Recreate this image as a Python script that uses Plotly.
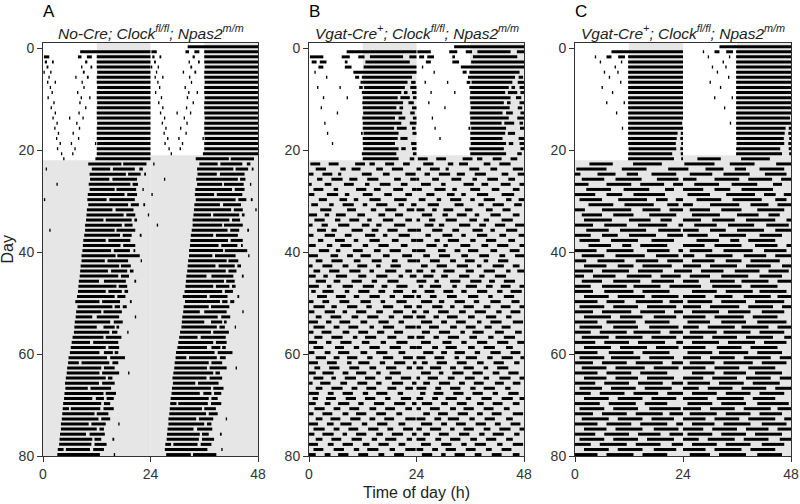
import plotly.graph_objects as go

# ---------------- data (single-plotted days, hours of activity bouts) ----------------
DD_START_DAY = 22          # first day in constant darkness
LIGHTS_OFF, LIGHTS_ON = 12, 24
N_ROWS = 80
X_TICKS = [0, 24, 48]
Y_TICKS = [0, 20, 40, 60, 80]

panel_letters = ["A", "B", "C"]
panel_titles = [
    "<i>No-Cre; Clock<sup>fl/fl</sup>; Npas2<sup>m/m</sup></i>",
    "<i>Vgat-Cre<sup>+</sup>; Clock<sup>fl/fl</sup>; Npas2<sup>m/m</sup></i>",
    "<i>Vgat-Cre<sup>+</sup>; Clock<sup>fl/fl</sup>; Npas2<sup>m/m</sup></i>",
]

bouts_A = [
    "8.3-24", "0.2-1.4 7.8-8.6 9.8-10.9 12.0-24", "0.4-0.9 2.0-2.4 9.4-9.9 12.0-24",
    "0.8-1.2 8.5-8.8 10.6-11.0 12.0-24", "0.1-0.4 1.6-1.9 8.9-9.3 12.1-24",
    "1.2-1.5 7.2-7.5 9.8-10.2 12.0-24", "0.9-1.2 2.6-2.9 8.6-8.9 12.0-24",
    "1.5-1.8 9.0-9.3 12.1-24", "1.9-2.2 7.6-7.9 12.0-24", "1.0-1.3 8.4-8.7 10.3-10.6 12.0-24",
    "2.3-2.6 8.1-8.4 12.1-24", "1.7-2.0 9.4-9.7 12.0-24", "2.6-2.9 7.9-8.2 12.0-24",
    "2.1-2.4 5.8-6.1 8.8-9.1 12.0-24", "3.0-3.3 7.4-7.7 12.1-24", "2.5-2.8 8.0-8.3 12.0-24",
    "3.3-3.6 6.6-6.9 12.0-24", "2.9-3.2 7.8-8.1 12.0-24", "3.7-4.0 6.2-6.5 11.6-11.9 12.1-24",
    "3.1-3.4 7.0-7.3 12.0-24", "4.0-4.3 6.5-6.8 12.0-24", "4.5-4.8 11.7-24",
    "10.1-17.5 17.9-23.1", "0.6-0.9 10.9-15.0 15.6-20.5 21.5-22.3", "10.4-18.5 19.0-21.8 22.6-23.0",
    "10.5-14.8 15.5-21.0", "3.0-3.3 10.2-19.5 20.0-21.2", "10.4-16.0 16.4-20.8 22.2-22.5",
    "10.0-18.2 18.8-21.0", "0.2-0.5 9.9-14.2 14.8-20.5", "10.1-19.0 19.6-21.4 22.4-22.8",
    "9.8-15.5 16.2-20.2", "9.7-18.0 18.6-20.6 23.4-23.7", "9.6-13.5 14.0-19.8 20.4-21.0",
    "9.4-17.6 18.2-20.0", "1.4-1.7 9.4-16.0 16.4-20.6", "9.2-17.2 17.8-19.8 21.6-22.0",
    "9.0-14.0 14.6-19.5", "8.9-17.3 17.9-20.6", "8.8-15.2 15.8-19.4 20.2-20.6",
    "8.6-16.2 16.6-21.6", "8.6-13.8 14.4-19.0 21.8-22.1", "8.4-17.0 17.4-19.6",
    "8.3-14.5 15.2-18.8 19.4-20.2", "8.2-16.8 17.4-19.2", "8.0-12.5 13.6-18.5 20.4-20.8",
    "7.9-16.4 16.9-18.8", "7.8-14.0 14.6-17.6 18.2-19.0", "7.6-16.0 16.6-18.4",
    "7.2-12.6 13.2-17.2 19.4-19.8", "7.7-15.5 16.0-17.2 17.8-18.7", "7.4-13.0 13.5-17.6",
    "7.3-11.0 12.0-17.0 20.5-20.8", "7.1-15.0 15.8-17.8", "7.0-12.0 13.5-16.0 16.4-17.0",
    "6.9-14.8 15.4-16.6 18.8-19.1", "6.6-13.5 14.0-17.5", "6.4-10.5 11.2-16.8",
    "6.2-14.0 14.6-17.0", "6.0-12.6 13.6-15.6 16.0-16.8", "5.7-14.3 15.0-18.3",
    "5.6-8.0 8.6-14.8 15.5-16.8", "5.4-13.0 13.6-16.0", "5.3-12.6 13.2-17.0 19.0-19.3",
    "5.1-14.0 14.5-15.5", "4.9-12.5 13.2-16.0", "5.0-10.0 10.6-15.2", "4.8-13.5 14.0-16.3",
    "4.7-11.0 11.8-13.6 14.2-15.8", "4.5-13.0 13.6-15.0", "4.4-5.8 6.2-12.8 13.5-15.8",
    "4.3-11.5 12.0-14.6", "4.2-12.4 13.0-15.0", "4.0-10.2 10.8-14.0 16.8-17.1",
    "4.0-12.0 12.6-13.6", "3.8-9.6 10.4-13.8", "3.7-11.0 11.5-13.0 15.5-15.9",
    "3.6-10.8 11.5-14.2", "3.3-4.6 5.1-10.5 11.2-13.6", "3.2-12.7 15.8-16.1", "3.5-9.0 9.5-14.7",
]

bouts_B = [
    "8.4-24", "0.2-3.2 7.3-9.1 11.0-12.4 13.6-21.0 22.4-24", "0.6-1.7 2.4-3.9 8.0-8.6 12.6-22.5",
    "2.1-3.2 8.0-9.5 12.2-24", "1.2-1.5 9.9-24", "3.8-4.1 10.3-11.2 11.8-23.0",
    "11.5-22.0 22.8-23.8", "1.8-2.1 6.8-7.1 11.2-12.0 12.3-21.4 22.6-24", "11.8-20.6 21.2-22.0 23.0-24",
    "3.1-3.4 8.4-8.7 12.0-19.8 20.4-22.5 23.2-24", "11.9-21.0 22.2-23.4", "2.6-2.9 12.0-19.5 20.2-21.0 23.0-24",
    "6.2-6.5 12.1-20.8 22.6-23.6", "11.9-19.2 20.0-21.5 23.2-24", "3.4-3.7 12.0-20.6 22.5-24",
    "12.0-19.0 19.6-21.8 23.0-23.8", "4.0-4.3 11.6-12.0 12.2-20.0 23.1-24", "12.0-19.8 20.4-22.0",
    "5.1-5.4 12.0-19.2 22.8-24", "12.1-20.0 20.6-21.6 23.0-24", "11.8-19.5 23.2-24", "12.0-20.0 22.5-23.5",
    "0.3-2.5 4.4-6.6 10.3-12.5 13.5-14.7 17.0-19.0 21.0-22.5",
    "1.5-3.8 7.0-8.2 9.5-11.5 15.0-16.5 18.5-21.0",
    "0.0-1.0 3.0-5.2 6.5-7.2 11.8-14.0 16.5-18.0 21.5-23.8",
    "1.8-3.0 5.0-7.5 9.0-10.8 13.0-15.5 19.0-20.5 22.6-24",
    "0.0-0.6 3.5-5.0 7.8-10.0 12.5-13.5 15.8-18.2 20.5-22.0",
    "1.0-3.2 5.5-6.5 10.5-12.8 14.5-16.0 18.8-21.0 23.0-24",
    "0.0-1.2 4.0-6.5 8.0-9.0 12.0-14.2 16.8-18.5 21.5-23.0",
    "2.2-4.0 6.8-8.5 10.0-11.0 13.5-16.0 19.0-21.8",
    "0.5-2.0 4.5-5.5 7.5-10.0 12.0-13.0 15.0-17.5 20.0-21.2 22.8-24",
    "2.5-5.0 8.5-10.5 13.8-15.0 17.0-19.5 21.8-23.5",
    "0.0-1.8 3.5-4.5 6.0-8.2 10.8-12.5 15.5-17.0 19.2-21.0",
    "1.2-3.5 5.8-7.0 9.0-11.2 13.0-14.0 16.5-18.8 21.5-23.0",
    "0.0-0.8 2.8-4.2 6.5-9.0 11.8-13.5 15.0-16.2 19.0-21.5",
    "1.8-3.8 5.0-6.2 9.5-12.0 14.0-15.5 17.5-19.8 22.0-24",
    "0.0-1.0 3.5-5.8 8.0-9.5 12.5-14.8 16.5-17.5 20.0-22.5",
    "2.0-3.2 5.8-8.0 10.0-11.0 13.5-15.8 18.5-20.0 22.8-24",
    "0.0-1.5 4.0-5.2 7.0-9.5 12.0-13.2 15.5-17.8 20.5-22.0",
    "2.2-4.5 6.0-7.0 9.8-12.0 14.5-16.0 18.0-20.5 23.0-24",
    "0.0-2.0 4.8-6.5 8.5-9.8 11.5-13.8 16.5-18.0 20.8-23.0",
    "1.5-3.0 5.0-7.5 10.0-11.5 14.0-16.2 18.5-19.8 22.0-24",
    "0.0-0.8 3.0-5.2 7.5-8.8 10.8-13.0 15.0-16.0 18.2-20.5",
    "1.0-2.5 4.5-6.8 9.0-11.5 13.5-14.5 17.0-19.5 21.5-23.0",
    "0.0-1.5 3.2-4.2 6.0-8.5 11.0-12.8 15.0-17.5 20.0-21.0 22.5-24",
    "1.5-3.8 5.5-7.0 9.5-11.8 14.0-15.2 17.5-20.0",
    "0.0-2.2 4.0-5.0 7.5-9.8 12.0-14.5 16.2-17.5 19.5-22.0",
    "0.5-1.5 3.0-5.5 8.0-9.0 11.0-13.5 15.5-17.0 18.8-21.0 23.0-24",
    "1.8-4.0 6.0-8.2 10.0-11.2 13.5-15.8 18.0-19.2 21.0-23.5",
    "0.0-1.0 3.0-4.5 6.8-9.0 11.5-13.8 16.0-17.0 19.5-21.8",
    "1.0-3.5 5.0-6.2 8.5-10.8 12.8-14.0 16.5-18.8 21.2-23.0",
    "0.0-1.2 3.5-5.8 7.5-8.5 10.5-12.8 15.0-16.5 18.8-21.0 23.0-24",
    "1.5-2.8 4.8-7.2 9.5-11.0 13.0-15.5 17.8-19.0 21.0-23.2",
    "0.0-2.0 3.8-5.0 6.8-9.2 11.5-13.0 15.5-17.8 20.0-21.2",
    "1.0-3.5 5.5-6.8 8.8-11.0 13.5-14.5 16.5-19.0 21.5-23.8",
    "0.0-1.0 2.8-5.0 7.5-9.0 11.0-13.2 15.2-16.8 19.0-21.0",
    "1.2-3.0 5.0-7.5 9.8-10.8 12.5-15.0 17.5-19.5 22.0-23.5",
    "0.0-1.8 3.8-5.0 7.0-9.5 11.8-13.5 16.0-17.2 19.5-22.0",
    "1.0-3.2 5.8-7.8 10.0-11.2 13.5-15.8 18.0-20.5 22.5-24",
    "0.0-1.2 3.5-4.8 6.5-9.0 11.5-13.0 15.0-17.5 20.0-21.5",
    "1.5-3.8 5.5-6.8 8.5-10.8 13.0-14.2 16.5-18.8 21.0-23.2",
    "0.0-2.0 4.0-6.2 8.5-9.5 11.0-13.5 15.8-17.0 19.0-21.5 23.2-24",
    "1.2-2.5 4.5-6.8 9.0-11.2 13.5-15.0 17.2-19.5 21.8-23.0",
    "0.0-1.5 3.0-5.5 7.5-8.8 10.5-12.8 15.0-16.0 18.0-20.5",
    "1.0-3.2 5.0-6.0 8.0-10.5 12.5-14.8 17.0-18.5 20.5-22.8",
    "0.0-0.8 2.5-4.8 7.0-8.5 10.8-13.0 15.0-16.2 18.5-21.0 23.0-24",
    "1.5-3.0 5.0-7.5 9.5-10.8 12.8-15.0 17.5-19.5 21.5-23.2",
    "0.0-2.2 4.2-5.5 7.5-9.8 12.0-13.2 15.0-17.5 19.8-21.0",
    "0.8-2.0 3.8-6.0 8.2-10.5 12.5-14.8 17.0-18.2 20.5-22.8",
    "0.0-1.5 3.5-4.8 6.5-9.0 11.0-12.2 14.5-16.8 19.0-21.5 23.0-24",
    "1.2-3.5 5.5-7.0 9.0-11.2 13.5-15.0 17.0-19.2 21.5-23.0",
    "0.0-1.0 3.0-5.2 7.5-8.8 10.5-12.8 15.0-17.2 19.5-20.8",
    "1.5-3.0 4.8-7.0 9.2-11.5 13.5-14.8 16.8-19.0 21.5-23.8",
    "0.0-2.0 4.0-5.5 7.0-9.5 11.8-13.0 15.2-17.5 20.0-21.5",
    "1.0-3.5 5.5-6.8 8.8-11.0 13.2-15.5 17.5-18.8 21.0-23.2",
    "0.0-1.2 3.0-5.5 7.5-8.5 10.5-12.8 15.0-16.5 18.5-21.0 23.0-24",
    "1.5-3.0 5.0-7.2 9.5-11.8 14.0-15.2 17.0-19.5 21.8-23.0",
    "0.0-2.0 4.2-5.5 7.5-9.8 12.0-13.5 15.5-17.8 20.0-21.5",
    "1.0-3.2 5.5-7.8 10.0-11.2 13.0-15.5 18.0-19.2 21.5-23.8",
    "0.0-1.5 3.5-4.8 6.5-8.8 11.0-13.2 15.5-16.8 19.0-21.2",
    "1.2-3.5 5.5-6.5 8.5-10.8 13.0-14.5 16.8-19.0 21.5-23.0",
]

bouts_C = [
    "8.1-24", "4.4-4.7 7.0-8.1 9.6-11.1 11.8-24", "5.5-5.8 10.2-10.5 11.8-24",
    "8.8-9.1 11.8-24", "6.4-6.7 9.4-9.7 11.8-24", "7.5-7.8 11.8-24", "10.0-10.3 11.8-24",
    "5.9-6.2 11.8-24", "8.2-8.5 11.8-24", "11.8-24", "6.9-7.2 10.8-11.1 11.8-24",
    "11.8-24", "9.1-9.4 11.8-24", "11.8-24", "11.8-23.8", "10.4-10.7 11.8-24",
    "11.8-22.8 23.5-24", "11.8-22.6 23.4-24", "11.8-22.4 23.6-24", "11.9-22.5 23.4-24",
    "11.8-21.6 23.5-24", "11.8-22.0 23.6-24",
    "3.2-8.4 12.9-19.3", "0.3-7.0 10.4-15.9 20.7-24", "0.0-1.2 5.0-9.0 11.5-14.0 17.0-22.5",
    "1.5-6.5 9.0-14.8 18.2-23.0", "0.0-3.0 7.0-12.5 14.5-19.8 21.8-24", "2.5-8.0 10.8-16.5 20.0-22.0",
    "0.0-4.5 7.0-10.5 13.0-20.0", "1.0-6.0 9.6-16.0 18.0-20.6 22.4-24", "3.0-8.5 11.0-17.5 20.5-23.0",
    "0.0-2.2 6.0-12.5 15.0-19.0 21.0-24", "1.5-6.0 8.5-13.0 16.5-22.5", "2.0-8.2 12.0-16.8 19.0-21.5",
    "0.0-4.0 6.5-11.5 14.0-20.5 23.0-24", "2.5-7.5 10.0-15.8 18.5-23.5", "0.0-3.5 6.0-9.5 12.0-18.0 20.5-24",
    "1.0-5.5 8.0-14.0 17.0-22.0", "3.0-8.0 10.5-12.5 14.5-20.5", "0.0-4.8 7.0-13.0 16.0-21.0 23.0-24",
    "1.5-6.5 9.0-15.5 18.0-23.0", "0.0-2.5 5.0-11.0 13.5-18.5 20.5-24", "2.0-7.0 9.5-13.0 15.0-21.5",
    "0.0-4.0 6.0-12.0 14.0-19.5 22.0-24", "0.0-2.0 4.0-9.0 11.5-17.0 19.0-23.5", "1.5-6.0 8.5-14.5 17.0-22.0",
    "0.0-3.5 6.0-11.5 13.0-19.0 21.0-24", "0.0-4.0 6.5-13.0 15.0-21.0", "2.0-7.5 9.5-15.5 17.0-23.0",
    "0.0-5.0 7.0-11.0 13.5-19.5 21.0-24", "1.0-6.5 8.5-14.0 16.0-22.5", "0.0-4.0 6.0-12.5 14.5-20.0 22.0-24",
    "2.0-8.0 10.0-15.0 17.5-22.5", "0.0-5.0 7.0-13.5 15.5-21.0", "1.0-6.0 8.5-14.0 16.5-23.0",
    "0.0-3.5 5.5-11.5 13.0-19.0 21.0-24", "1.5-7.5 9.0-15.0 17.0-22.5", "0.0-4.5 6.5-12.0 14.0-20.0 22.5-24",
    "2.0-8.0 10.0-16.0 18.0-23.0", "0.0-5.0 7.5-13.0 15.0-21.0", "1.0-6.5 8.0-14.5 16.5-22.0",
    "0.0-4.0 6.0-11.5 13.5-19.5 21.5-24", "1.5-7.0 9.0-15.5 17.5-23.0", "0.0-5.0 7.0-12.5 14.5-20.5",
    "2.0-7.0 9.0-14.0 16.0-22.0", "0.0-4.5 6.5-12.0 14.0-19.5 21.5-24", "1.0-6.0 8.0-13.5 15.5-21.5",
    "0.0-3.5 5.5-11.0 13.0-18.5 20.5-24", "2.0-7.5 9.5-15.0 17.0-22.5", "0.0-5.5 7.5-13.5 15.5-20.5",
    "1.0-6.5 8.5-14.0 16.5-23.5", "0.0-4.0 6.0-11.5 13.5-19.5 21.0-24", "1.5-7.5 9.5-15.0 17.0-22.0",
    "0.0-5.0 7.0-12.5 14.5-20.5 22.5-24", "2.0-7.0 9.0-15.0 17.5-23.0", "0.0-4.5 6.5-12.0 14.0-19.0 21.0-24",
    "1.0-6.5 8.5-14.0 16.0-22.0", "0.0-3.5 5.5-11.5 13.5-19.0 21.5-24", "2.0-7.5 9.5-15.0 17.5-22.5",
    "0.0-5.0 7.0-13.0 15.0-20.5", "1.5-6.0 8.0-14.0 16.5-22.0",
]

# ---------------- figure ----------------
L, R, T, B = 43, 9, 43, 48
W, H = 800, 504
pw = W - L - R
ph = H - T - B
px_dom = [(43, 258), (309, 524), (575, 791)]
domains = [[(a - L) / pw, (b - L) / pw] for a, b in px_dom]

BAR_OFFSET = 0.72
SHADE = "#e6e6e6"
FONT = "Arial"


def parse(s):
    out = []
    for tok in s.split():
        a, b = tok.split("-")
        out.append((float(a), float(b)))
    return out


fig = go.Figure()
shapes = []
annotations = []

for p, bouts in enumerate([bouts_A, bouts_B, bouts_C]):
    xr = "x" if p == 0 else f"x{p + 1}"
    yr = "y" if p == 0 else f"y{p + 1}"
    xs, ys = [], []
    for day, s in enumerate(bouts):
        for a, b in parse(s):
            # double plot: day d on the left of row d and on the right of row d-1
            if day <= N_ROWS - 1:
                yv = day + BAR_OFFSET
                xs += [a, b, None]
                ys += [yv, yv, None]
            yv = day - 1 + BAR_OFFSET
            xs += [a + 24, b + 24, None]
            ys += [yv, yv, None]
    fig.add_trace(go.Scatter(x=xs, y=ys, mode="lines", xaxis=xr, yaxis=yr,
                             line=dict(color="black", width=3), hoverinfo="skip",
                             showlegend=False, connectgaps=False))
    # light/dark shading
    rects = [
        (LIGHTS_OFF, LIGHTS_ON, -1, DD_START_DAY),
        (LIGHTS_OFF + 24, LIGHTS_ON + 24, -1, DD_START_DAY - 1),
        (0, 24, DD_START_DAY, N_ROWS),
        (24, 48, DD_START_DAY - 1, N_ROWS),
    ]
    for x0, x1, y0, y1 in rects:
        shapes.append(dict(type="rect", xref=xr, yref=yr, x0=x0, x1=x1, y0=y0, y1=y1,
                           fillcolor=SHADE, line=dict(width=0), layer="below"))
    d0, d1 = domains[p]
    annotations.append(dict(text=panel_letters[p], xref="paper", yref="paper",
                            x=d0 - 2 / pw, y=1 + 31 / ph, xanchor="left", yanchor="middle",
                            showarrow=False, font=dict(family=FONT, size=17, color="black")))
    annotations.append(dict(text=panel_titles[p], xref="paper", yref="paper",
                            x=(d0 + d1) / 2, y=1 + 11 / ph, xanchor="center",
                            yanchor="middle", showarrow=False,
                            font=dict(family=FONT, size=15.5, color="#222")))

    axis_common = dict(showline=True, linecolor="#333", linewidth=1, mirror=True,
                       ticks="outside", ticklen=5, tickcolor="#333", showgrid=False,
                       zeroline=False, automargin=False,
                       tickfont=dict(family=FONT, size=14, color="#333"))
    fig.layout[f"xaxis{'' if p == 0 else p + 1}"] = dict(
        domain=domains[p], range=[0, 48], tickvals=X_TICKS, anchor=yr, **axis_common)
    fig.layout[f"yaxis{'' if p == 0 else p + 1}"] = dict(
        domain=[0, 1], range=[N_ROWS, -1], tickvals=Y_TICKS, anchor=xr, **axis_common)

annotations.append(dict(text="Time of day (h)", xref="paper", yref="paper",
                        x=(domains[1][0] + domains[1][1]) / 2, y=-36 / ph,
                        xanchor="center", yanchor="middle", showarrow=False,
                        font=dict(family=FONT, size=16, color="#222")))
annotations.append(dict(text="Day", xref="paper", yref="paper", x=-36 / pw, y=0.5,
                        textangle=-90, xanchor="center", yanchor="middle", showarrow=False,
                        font=dict(family=FONT, size=16, color="#222")))

fig.update_layout(width=W, height=H, margin=dict(l=L, r=R, t=T, b=B, autoexpand=False),
                  plot_bgcolor="white", paper_bgcolor="white",
                  shapes=shapes, annotations=annotations, showlegend=False)

fig.write_html("out.html", config={"displayModeBar": False},
               post_script="document.body.style.margin='0';document.body.style.overflow='hidden';")
